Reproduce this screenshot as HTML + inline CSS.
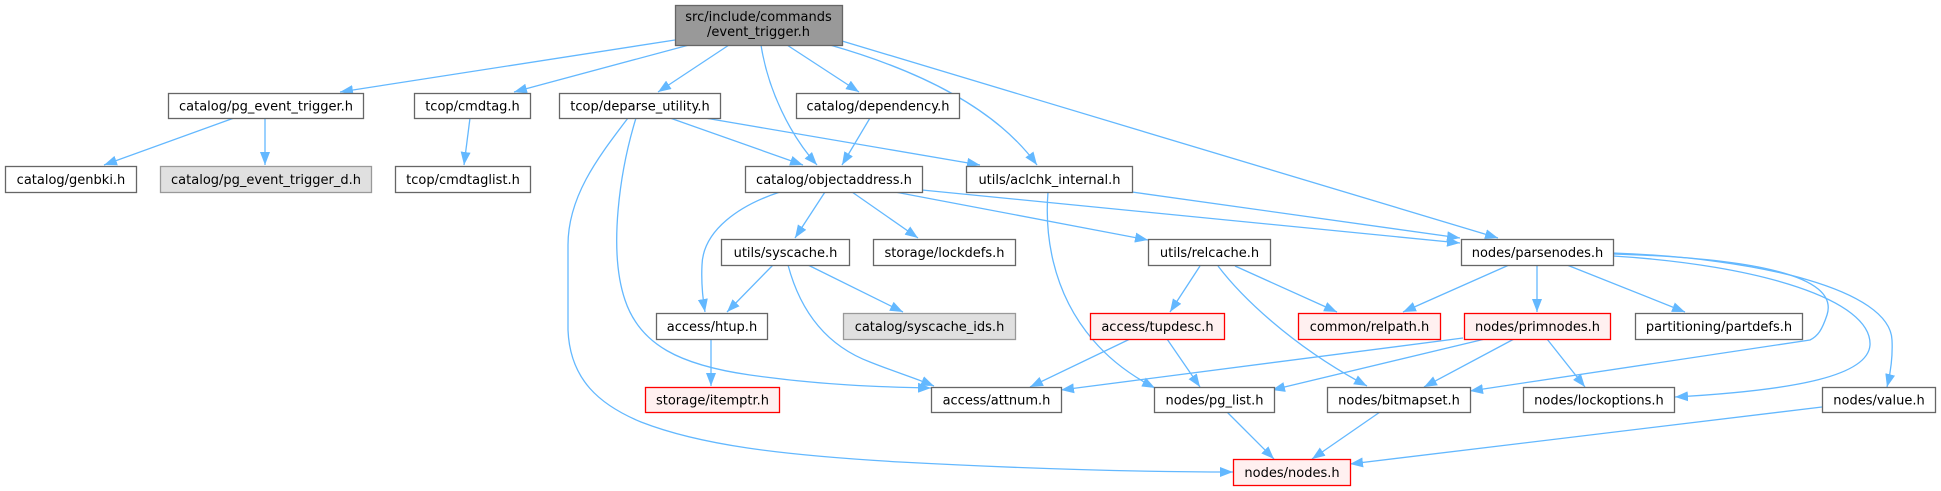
<!DOCTYPE html>
<html>
<head>
<meta charset="utf-8">
<style>
  html, body { margin: 0; padding: 0; background: #ffffff; }
  body { width: 1941px; height: 491px; overflow: hidden; }
  svg { display: block; }
  text { font-family: "DejaVu Sans", "Liberation Sans", sans-serif; font-size: 13px; fill: #000; }
</style>
</head>
<body>
<svg width="1941" height="491" viewBox="0 0 1941 491" xmlns="http://www.w3.org/2000/svg">
  <defs>
    <marker id="ah" markerUnits="userSpaceOnUse" markerWidth="13" markerHeight="10" refX="13" refY="5" orient="auto" viewBox="0 0 13 10">
      <path d="M0,0 L13,5 L0,10 z" fill="#63b8ff"/>
    </marker>
  </defs>

  <!-- edges -->
  <g fill="none" stroke="#63b8ff" stroke-width="1.3" marker-end="url(#ah)">
    <path d="M675,40 L340,92"/>
    <path d="M689,45 L514,92"/>
    <path d="M729,45 L658,92"/>
    <path d="M761,45 C768,90 790,135 817,165"/>
    <path d="M787,45 L859,92"/>
    <path d="M830,45 C900,65 990,100 1037,165"/>
    <path d="M842,41 L1498,238"/>
    <path d="M234,118 L104,165"/>
    <path d="M265,118 L265,165"/>
    <path d="M470,118 L464,165"/>
    <path d="M670,118 L803,165"/>
    <path d="M705,118 L980,165"/>
    <path d="M636,118 C620,170 608,250 625,300 C640,345 680,365 750,375 C820,385 880,387 931,388"/>
    <path d="M628,118 C600,155 568,195 568,245 L568,330 C570,380 600,405 641,422 C700,445 780,455 900,462 C1050,470 1150,472 1233,472"/>
    <path d="M870,118 L842,165"/>
    <path d="M780,192 C740,205 703,230 702,265 C701,285 703,300 705,312"/>
    <path d="M825,192 L795,238"/>
    <path d="M852,192 L918,238"/>
    <path d="M895,192 L1148,240"/>
    <path d="M922,190 L1460,243"/>
    <path d="M1132,192 L1460,238"/>
    <path d="M1048,192 C1045,230 1050,290 1093,340 C1110,360 1130,375 1155,388"/>
    <path d="M773,265 L727,312"/>
    <path d="M808,265 L903,312"/>
    <path d="M788,265 C800,310 825,345 870,362 C895,372 915,378 934,386"/>
    <path d="M1200,266 L1170,312"/>
    <path d="M1235,266 L1337,312"/>
    <path d="M1218,266 C1240,295 1290,345 1367,386"/>
    <path d="M1509,265 L1403,312"/>
    <path d="M1537,265 L1537,312"/>
    <path d="M1567,265 L1685,312"/>
    <path d="M1613,254 C1750,258 1840,275 1827,315 C1822,330 1818,336 1810,340 L1470,391"/>
    <path d="M1613,256 C1760,265 1872,300 1870,345 C1868,375 1800,390 1675,397"/>
    <path d="M1613,253 C1760,258 1890,290 1892,340 C1893,360 1890,375 1887,387"/>
    <path d="M711,339 L711,386"/>
    <path d="M1130,339 L1030,387"/>
    <path d="M1167,339 L1200,387"/>
    <path d="M1463,338 L1061,390"/>
    <path d="M1485,339 L1272,390"/>
    <path d="M1514,339 L1424,387"/>
    <path d="M1547,339 L1585,387"/>
    <path d="M1227,412 L1274,459"/>
    <path d="M1380,412 L1312,459"/>
    <path d="M1822,407 L1350,464"/>
  </g>

  <!-- nodes -->
  <g stroke-width="1.3">
    <!-- root -->
    <rect x="675.5" y="5.5" width="167" height="40" fill="#999999" stroke="#666666"/>
    <text x="758.5" y="21" text-anchor="middle">src/include/commands</text>
    <text x="758.5" y="36" text-anchor="middle">/event_trigger.h</text>

    <!-- row 1 -->
    <rect x="168.5" y="93.5" width="195" height="25" fill="#ffffff" stroke="#666666"/>
    <text x="266" y="110.5" text-anchor="middle">catalog/pg_event_trigger.h</text>
    <rect x="414.5" y="93.5" width="116" height="25" fill="#ffffff" stroke="#666666"/>
    <text x="472.5" y="110.5" text-anchor="middle">tcop/cmdtag.h</text>
    <rect x="559.5" y="93.5" width="161" height="25" fill="#ffffff" stroke="#666666"/>
    <text x="640" y="110.5" text-anchor="middle">tcop/deparse_utility.h</text>
    <rect x="796.5" y="93.5" width="163" height="25" fill="#ffffff" stroke="#666666"/>
    <text x="878" y="110.5" text-anchor="middle">catalog/dependency.h</text>

    <!-- row 2 -->
    <rect x="5.5" y="166.5" width="131" height="26" fill="#ffffff" stroke="#666666"/>
    <text x="71" y="184" text-anchor="middle">catalog/genbki.h</text>
    <rect x="160.5" y="166.5" width="211" height="26" fill="#e0e0e0" stroke="#999999"/>
    <text x="266" y="184" text-anchor="middle">catalog/pg_event_trigger_d.h</text>
    <rect x="395.5" y="166.5" width="135" height="26" fill="#ffffff" stroke="#666666"/>
    <text x="463" y="184" text-anchor="middle">tcop/cmdtaglist.h</text>
    <rect x="745.5" y="166.5" width="177" height="26" fill="#ffffff" stroke="#666666"/>
    <text x="834" y="184" text-anchor="middle">catalog/objectaddress.h</text>
    <rect x="966.5" y="166.5" width="166" height="26" fill="#ffffff" stroke="#666666"/>
    <text x="1049.5" y="184" text-anchor="middle">utils/aclchk_internal.h</text>

    <!-- row 3 -->
    <rect x="721.5" y="239.5" width="128" height="26" fill="#ffffff" stroke="#666666"/>
    <text x="785.5" y="257" text-anchor="middle">utils/syscache.h</text>
    <rect x="873.5" y="239.5" width="142" height="26" fill="#ffffff" stroke="#666666"/>
    <text x="944.5" y="257" text-anchor="middle">storage/lockdefs.h</text>
    <rect x="1148.5" y="239.5" width="122" height="26" fill="#ffffff" stroke="#666666"/>
    <text x="1209.5" y="257" text-anchor="middle">utils/relcache.h</text>
    <rect x="1461.5" y="239.5" width="152" height="26" fill="#ffffff" stroke="#666666"/>
    <text x="1537.5" y="257" text-anchor="middle">nodes/parsenodes.h</text>

    <!-- row 4 -->
    <rect x="656.5" y="313.5" width="111" height="26" fill="#ffffff" stroke="#666666"/>
    <text x="712" y="331" text-anchor="middle">access/htup.h</text>
    <rect x="843.5" y="313.5" width="172" height="26" fill="#e0e0e0" stroke="#999999"/>
    <text x="929.5" y="331" text-anchor="middle">catalog/syscache_ids.h</text>
    <rect x="1090.5" y="313.5" width="134" height="26" fill="#fff0f0" stroke="#ff0000"/>
    <text x="1157.5" y="331" text-anchor="middle">access/tupdesc.h</text>
    <rect x="1298.5" y="313.5" width="142" height="26" fill="#fff0f0" stroke="#ff0000"/>
    <text x="1369.5" y="331" text-anchor="middle">common/relpath.h</text>
    <rect x="1464.5" y="313.5" width="146" height="26" fill="#fff0f0" stroke="#ff0000"/>
    <text x="1537.5" y="331" text-anchor="middle">nodes/primnodes.h</text>
    <rect x="1635.5" y="313.5" width="167" height="26" fill="#ffffff" stroke="#666666"/>
    <text x="1719" y="331" text-anchor="middle">partitioning/partdefs.h</text>

    <!-- row 5 -->
    <rect x="645.5" y="387.5" width="134" height="25" fill="#fff0f0" stroke="#ff0000"/>
    <text x="712.5" y="404.5" text-anchor="middle">storage/itemptr.h</text>
    <rect x="931.5" y="387.5" width="130" height="25" fill="#ffffff" stroke="#666666"/>
    <text x="996.5" y="404.5" text-anchor="middle">access/attnum.h</text>
    <rect x="1154.5" y="387.5" width="120" height="25" fill="#ffffff" stroke="#666666"/>
    <text x="1214.5" y="404.5" text-anchor="middle">nodes/pg_list.h</text>
    <rect x="1327.5" y="387.5" width="143" height="25" fill="#ffffff" stroke="#666666"/>
    <text x="1399" y="404.5" text-anchor="middle">nodes/bitmapset.h</text>
    <rect x="1523.5" y="387.5" width="151" height="25" fill="#ffffff" stroke="#666666"/>
    <text x="1599" y="404.5" text-anchor="middle">nodes/lockoptions.h</text>
    <rect x="1822.5" y="387.5" width="113" height="25" fill="#ffffff" stroke="#666666"/>
    <text x="1879" y="404.5" text-anchor="middle">nodes/value.h</text>

    <!-- row 6 -->
    <rect x="1233.5" y="459.5" width="117" height="26" fill="#fff0f0" stroke="#ff0000"/>
    <text x="1292" y="477" text-anchor="middle">nodes/nodes.h</text>
  </g>
</svg>
</body>
</html>
